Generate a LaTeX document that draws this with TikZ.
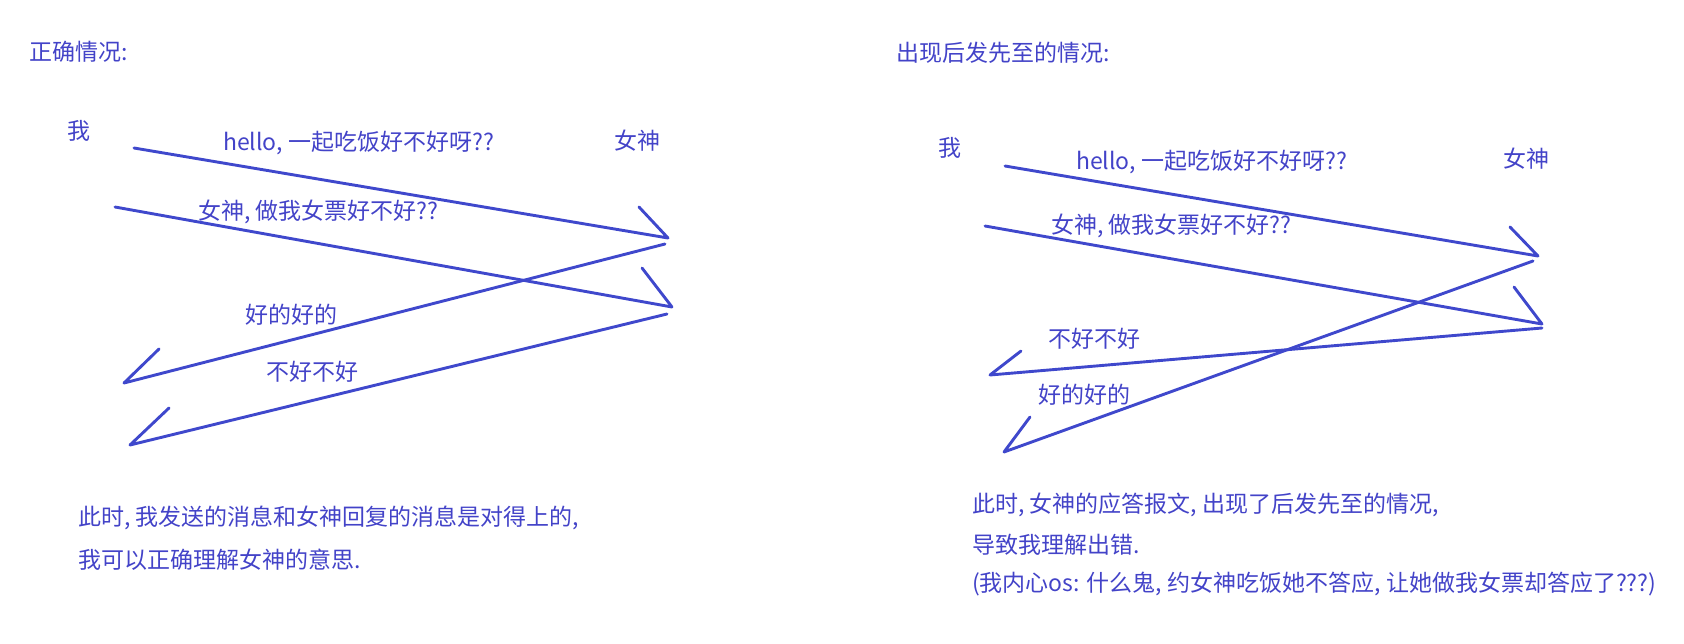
\documentclass[tikz,border=0pt]{standalone}
\usepackage{fontspec}
\setmainfont{Noto Sans CJK SC}
\definecolor{pen}{RGB}{63,72,204}
\definecolor{ink}{RGB}{67,67,200}
\begin{document}
\begin{tikzpicture}[x=1pt,y=-1pt,
  lbl/.style={text=ink,font=\fontsize{23}{27}\selectfont,inner sep=0pt},
  msg/.style={draw=pen,line width=2.9pt,line cap=round,line join=round}]
\useasboundingbox (0,0) rectangle (1684,643);
% ---------- left panel ----------
\node[lbl,anchor=west] (t1) at (29,52) {正确情况:};
\node[lbl] (me1) at (79,131) {我};
\node[lbl] (her1) at (637,141) {女神};
\node[lbl,anchor=west] (m1a) at (223,143) {hello, 一起吃饭好不好呀??};
\node[lbl,anchor=west] (m1b) at (198,212) {女神, 做我女票好不好??};
\node[lbl] (m1c) at (291,315) {好的好的};
\node[lbl] (m1d) at (312,372) {不好不好};
\node[lbl,anchor=west] (n1a) at (78,518) {此时, 我发送的消息和女神回复的消息是对得上的,};
\node[lbl,anchor=west] (n1b) at (78,560) {我可以正确理解女神的意思.};
\coordinate (a1s) at (134,148); \coordinate (a1e) at (668,238); \coordinate (a1h) at (639,207);
\coordinate (b1s) at (115,207); \coordinate (b1e) at (672,307); \coordinate (b1h) at (642,268);
\coordinate (c1s) at (665,244); \coordinate (c1e) at (124,383); \coordinate (c1h) at (159,349);
\coordinate (d1s) at (667,314); \coordinate (d1e) at (130,445); \coordinate (d1h) at (169,408);
\draw[msg] (a1s) -- (a1e) -- (a1h);
\draw[msg] (b1s) -- (b1e) -- (b1h);
\draw[msg] (c1s) -- (c1e) -- (c1h);
\draw[msg] (d1s) -- (d1e) -- (d1h);
% ---------- right panel ----------
\node[lbl,anchor=west] (t2) at (896,53) {出现后发先至的情况:};
\node[lbl] (me2) at (950,148) {我};
\node[lbl] (her2) at (1526,159) {女神};
\node[lbl,anchor=west] (m2a) at (1076,162) {hello, 一起吃饭好不好呀??};
\node[lbl,anchor=west] (m2b) at (1051,226) {女神, 做我女票好不好??};
\node[lbl] (m2c) at (1094,339) {不好不好};
\node[lbl] (m2d) at (1084,395) {好的好的};
\node[lbl,anchor=west] (n2a) at (972,505) {此时, 女神的应答报文, 出现了后发先至的情况,};
\node[lbl,anchor=west] (n2b) at (972,545) {导致我理解出错.};
\node[lbl,anchor=west] (n2c) at (972,584) {(我内心os: 什么鬼, 约女神吃饭她不答应, 让她做我女票却答应了???)};
\coordinate (a2s) at (1005,166); \coordinate (a2e) at (1538,256); \coordinate (a2h) at (1510,227);
\coordinate (b2s) at (985,226); \coordinate (b2e) at (1542,324); \coordinate (b2h) at (1514,287);
\coordinate (c2s) at (1542,328); \coordinate (c2e) at (990,375); \coordinate (c2h) at (1021,351);
\coordinate (d2s) at (1533,261); \coordinate (d2e) at (1004,452); \coordinate (d2h) at (1030,417);
\draw[msg] (a2s) -- (a2e) -- (a2h);
\draw[msg] (b2s) -- (b2e) -- (b2h);
\draw[msg] (c2s) -- (c2e) -- (c2h);
\draw[msg] (d2s) -- (d2e) -- (d2h);
\end{tikzpicture}
\end{document}
